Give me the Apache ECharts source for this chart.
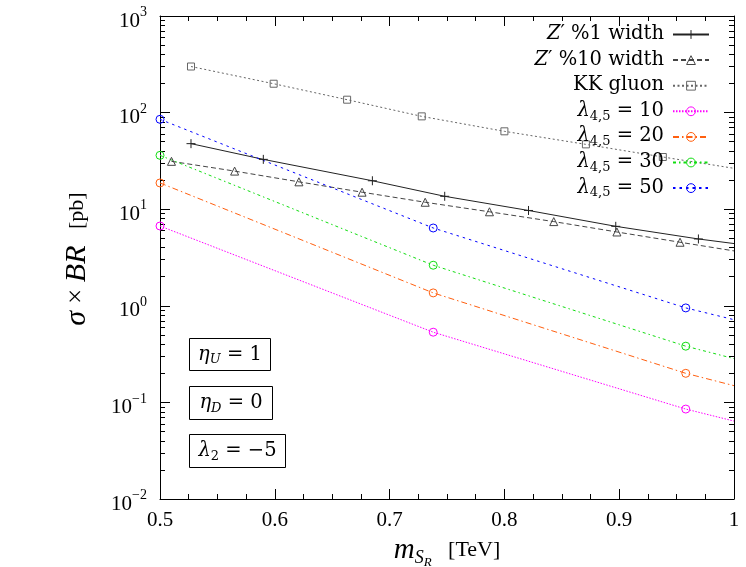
<!DOCTYPE html>
<html>
<head>
<meta charset="utf-8">
<script src="https://cdn.jsdelivr.net/npm/echarts@6/dist/echarts.min.js"></script>
<style>
    html, body {margin: 0; padding: 0; background: #fff;}
    #main {width: 746px; height: 567px;}
</style>
</head>
<body>
<div id="main"></div>
<script>
// values, x in TeV, y in pb (last point of each list is where the curve leaves the frame)
let zp1X = [0.527, 0.590, 0.685, 0.748, 0.821, 0.897, 0.969, 1.0];
let zp1Y = [47.7, 32.8, 19.7, 13.6, 9.7, 6.65, 4.92, 4.41];
let zp10X = [0.510, 0.565, 0.621, 0.676, 0.731, 0.787, 0.843, 0.898, 0.953, 1.0];
let zp10Y = [31.3, 24.8, 19.2, 15.0, 11.8, 9.4, 7.44, 5.81, 4.55, 3.70];
let kkX = [0.527, 0.599, 0.663, 0.728, 0.800, 0.871, 0.938, 1.0];
let kkY = [300, 199, 136, 91.4, 64, 46.9, 34.7, 26.5];
let lamX = [0.5, 0.738, 0.958, 1.0];
let lam10 = [6.70, 0.533, 0.0853, 0.0641];
let lam20 = [18.7, 1.36, 0.200, 0.149];
let lam30 = [36.1, 2.63, 0.382, 0.284];
let lam50 = [85.2, 6.39, 0.951, 0.718];

let names = ['zp1', 'zp10', 'kk', 'l10', 'l20', 'l30', 'l50'];
let decades = [0.01, 0.1, 1, 10, 100, 1000];

let minors = [];
decades.slice(0, -1).forEach(d => {
    for (let k = 2; k <= 9; k++) minors.push(+(d * k).toPrecision(3));
});

const serif = 'Liberation Serif';
const wide = 'DejaVu Serif';
const sub = {
    r: {fontFamily: wide, fontSize: 19.5, lineHeight: 21, padding: [1, 0, 2, 0], color: '#000'},
    i: {fontFamily: wide, fontSize: 19.5, lineHeight: 21, padding: [1, 0, 2, 0], fontStyle: 'italic', color: '#000'},
    s: {fontFamily: wide, fontSize: 13, lineHeight: 14, padding: [10, 0, 0, 0], color: '#000'},
    si: {fontFamily: wide, fontSize: 13, lineHeight: 14, padding: [10, 0, 0, 0], fontStyle: 'italic', color: '#000'}
};

let legendText = {
    zp1: '{i|Z}{r|′ %1 width}',
    zp10: '{i|Z}{r|′ %10 width}',
    kk: '{r|KK gluon}',
    l10: '{i|λ}{s|4,5}{r| = 10}',
    l20: '{i|λ}{s|4,5}{r| = 20}',
    l30: '{i|λ}{s|4,5}{r| = 30}',
    l50: '{i|λ}{s|4,5}{r| = 50}'
};

function pts(xs, ys) {
    return xs.map((x, i) => {
        let p = {value: [x, ys[i]]};
        if (i === xs.length - 1) p.symbol = 'none';
        return p;
    });
}

function line(name, xs, ys, color, dash, symbol, size) {
    return {
        name: name,
        type: 'line',
        data: pts(xs, ys),
        symbol: symbol,
        symbolSize: size,
        showAllSymbol: true,
        animation: false,
        lineStyle: {color: color, width: 1, type: dash},
        itemStyle: {color: 'rgba(0,0,0,0)', borderColor: color, borderWidth: 1},
        emphasis: {disabled: true},
        z: 3
    };
}

let plus = 'path://M0,5L10,5M5,0L5,10';

function xAx(pos) {
    return {
        type: 'value', min: 0.5, max: 1, interval: 0.1, position: pos,
        axisLine: {show: true, onZero: false, lineStyle: {color: '#000', width: 1}},
        axisTick: {show: true, inside: true, length: 10, lineStyle: {color: '#000'}},
        minorTick: {show: true, splitNumber: 4, length: 5, lineStyle: {color: '#000'}},
        axisLabel: {show: pos === 'bottom', margin: 11, color: '#000', fontFamily: serif, fontSize: 21},
        splitLine: {show: false}
    };
}

function yAx(pos, major) {
    return {
        type: 'log', min: 0.01, max: 1000, position: pos,
        axisLine: {show: major, lineStyle: {color: '#000', width: 1}},
        axisTick: {show: true, inside: true, length: major ? 10 : 5, customValues: major ? decades : minors, lineStyle: {color: '#000'}},
        axisLabel: {
            show: major && pos === 'left',
            customValues: decades,
            margin: 13,
            formatter: v => '{b|10}{p|' + String(Math.round(Math.log10(v))).replace('-', '−') + '}',
            rich: {
                b: {fontFamily: serif, fontSize: 21, lineHeight: 21, padding: [5, 0, 4, 0], color: '#000', verticalAlign: 'top'},
                p: {fontFamily: serif, fontSize: 14, lineHeight: 14, padding: [0, 0, 16, 0], color: '#000', verticalAlign: 'top'}
            }
        },
        splitLine: {show: false}
    };
}

function box(x, y, w, h, text) {
    return [
        {type: 'rect', shape: {x: x + 0.5, y: y + 0.5, width: w, height: h}, style: {fill: '#fff', stroke: '#000', lineWidth: 1}, z: 10},
        {type: 'text', x: x + w / 2 + 0.5, y: y + h / 2 + 1, z: 11,
         style: {text: text, rich: sub, align: 'center', verticalAlign: 'middle'}}
    ];
}

let chart = echarts.init(document.getElementById('main'));
chart.setOption({
    backgroundColor: '#fff',
    animation: false,
    grid: {left: 160, top: 16, width: 574, height: 483, containLabel: false},
    xAxis: [xAx('bottom'), xAx('top')],
    yAxis: [yAx('left', true), yAx('left', false), yAx('right', true), yAx('right', false)],
    legend: {
        orient: 'vertical',
        align: 'right',
        right: 36,
        top: 23,
        padding: 0,
        itemWidth: 36,
        itemHeight: 11,
        itemGap: 2.6,
        selectedMode: false,
        itemStyle: {borderWidth: 1},
        formatter: n => legendText[n],
        textStyle: {rich: sub, padding: [0, 4, 0, 0]},
        data: names
    },
    series: [
        line('zp1', zp1X, zp1Y, '#222', 'solid', plus, 9),
        line('zp10', zp10X, zp10Y, '#444', [5, 3], 'triangle', 8),
        line('kk', kkX, kkY, '#666', [2, 2.5], 'rect', 7),
        line('l10', lamX, lam10, '#ff00ff', [1.5, 1.5], 'circle', 8),
        line('l20', lamX, lam20, '#ff6010', [6, 3, 1.5, 3], 'circle', 8),
        line('l30', lamX, lam30, '#11dd11', [3, 3, 1.5, 3], 'circle', 8),
        line('l50', lamX, lam50, '#0000ff', [2.5, 4], 'circle', 8)
    ],
    graphic: [].concat(
        box(189, 338, 81, 32, '{i|η}{si|U}{r| = 1}'),
        box(189, 386, 83, 33, '{i|η}{si|D}{r| = 0}'),
        box(189, 434, 96, 33, '{i|λ}{s|2}{r| = −5}'),
        [
            {type: 'text', x: 77, y: 259, rotation: Math.PI / 2,
             style: {text: '{i|σ}{m| × }{i|BR}{r|   [pb]}', align: 'center', verticalAlign: 'middle',
                     rich: {
                         i: {fontFamily: serif, fontSize: 30, fontStyle: 'italic', color: '#000'},
                         m: {fontFamily: serif, fontSize: 27, color: '#000'},
                         r: {fontFamily: serif, fontSize: 22, color: '#000'}
                     }}},
            {type: 'text', x: 447, y: 552,
             style: {text: '{i|m}{s|S}{ss|R}{r|   [TeV]}', align: 'center', verticalAlign: 'middle',
                     rich: {
                         i: {fontFamily: serif, fontSize: 29, lineHeight: 28, fontStyle: 'italic', color: '#000', padding: [2, 0, 6, 0]},
                         s: {fontFamily: serif, fontSize: 18, lineHeight: 18, fontStyle: 'italic', color: '#000', padding: [15, 0, 3, 0]},
                         ss: {fontFamily: serif, fontSize: 13, lineHeight: 13, fontStyle: 'italic', color: '#000', padding: [22, 0, 1, 0]},
                         r: {fontFamily: serif, fontSize: 22, lineHeight: 22, color: '#000', padding: [5, 0, 9, 0]}
                     }}}
        ]
    )
});
</script>
</body>
</html>
